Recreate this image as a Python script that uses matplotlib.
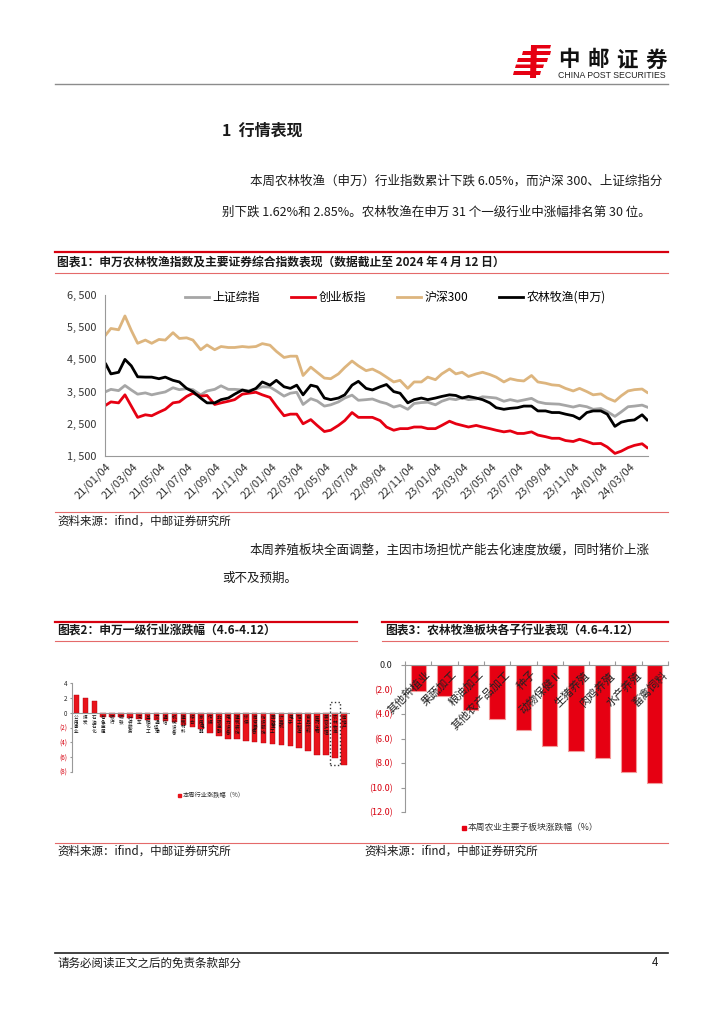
import numpy as np
import pandas as pd
import matplotlib
matplotlib.use('Agg')
import matplotlib.pyplot as plt
from matplotlib.patches import Rectangle, Polygon
from matplotlib.lines import Line2D

plt.rcParams['font.family'] = ['Noto Sans CJK SC', 'DejaVu Sans']

# =========================
# Data
# =========================

# semi-monthly readings (1st and 15th of each month), Jan 2021 - Apr 2024
dates = pd.date_range('2021-01-01', '2024-04-15', freq='SMS')
dates = dates.where(dates != pd.Timestamp('2021-01-01'), pd.Timestamp('2021-01-04'))
dates = dates.where(dates != pd.Timestamp('2024-04-15'), pd.Timestamp('2024-04-12'))

sse = [
    3500, 3570, 3530, 3690, 3550, 3420, 3460, 3400, 3450, 3490, 3620, 3560,
    3590, 3560, 3400, 3520, 3570, 3680, 3570, 3570, 3550, 3530, 3580, 3650,
    3640, 3520, 3360, 3450, 3480, 3100, 3280, 3210, 3050, 3090, 3180, 3300,
    3390, 3230, 3250, 3270, 3180, 3130, 3020, 3070, 2950, 3130, 3160, 3170,
    3090, 3200, 3280, 3250, 3310, 3250, 3270, 3340, 3320, 3300, 3200, 3250,
    3200, 3240, 3290, 3180, 3130, 3120, 3110, 3070, 3020, 3070, 3030, 2950,
    2975, 2880, 2730, 2870, 3030, 3050, 3080, 3020,
]

chinext = [
    3080, 3180, 3150, 3400, 3050, 2700, 2780, 2750, 2860, 2950, 3150, 3180,
    3350, 3450, 3360, 3380, 3100, 3150, 3200, 3250, 3420, 3450, 3480, 3400,
    3320, 3050, 2750, 2800, 2800, 2500, 2630, 2450, 2260, 2300, 2450, 2600,
    2850, 2700, 2700, 2700, 2600, 2400, 2300, 2350, 2350, 2400, 2400, 2350,
    2350, 2450, 2580, 2500, 2450, 2400, 2450, 2400, 2350, 2300, 2250, 2280,
    2200, 2200, 2250, 2150, 2100, 2050, 2050, 1980, 1950, 2020, 1950, 1880,
    1890, 1780, 1580, 1650, 1760, 1830, 1880, 1760,
]

hs300 = [
    5267, 5460, 5420, 5850, 5400, 5000, 5100, 5000, 5120, 5100, 5330, 5150,
    5170, 5100, 4800, 4950, 4800, 4900, 4870, 4870, 4900, 4880, 4900, 4990,
    4940, 4750, 4560, 4600, 4600, 4000, 4260, 4100, 3920, 3900, 4050, 4250,
    4450, 4300, 4150, 4200, 4080, 3950, 3800, 3850, 3600, 3800, 3800, 3950,
    3870, 4050, 4200, 4050, 4100, 3970, 4050, 4100, 4030, 3950, 3800, 3900,
    3850, 3830, 4000, 3800, 3760, 3710, 3690, 3600, 3520, 3600, 3500, 3400,
    3430, 3300, 3200, 3370, 3520, 3560, 3580, 3475,
]

agri = [
    4350, 4050, 4100, 4500, 4300, 3960, 3950, 3950, 3900, 3950, 3850, 3800,
    3600, 3500, 3300, 3150, 3150, 3250, 3300, 3420, 3550, 3500, 3600, 3800,
    3700, 3850, 3650, 3600, 3700, 3400, 3700, 3650, 3300, 3250, 3300, 3400,
    3700, 3820, 3600, 3550, 3650, 3720, 3500, 3450, 3150, 3250, 3300, 3250,
    3300, 3350, 3400, 3380, 3300, 3350, 3300, 3250, 3150, 3000, 2950, 2980,
    3000, 3050, 3050, 2900, 2900, 2850, 2850, 2800, 2750, 2650, 2850, 2900,
    2900, 2800, 2420, 2550, 2600, 2620, 2780, 2620,
]

series_names = ['上证综指', '创业板指', '沪深300', '农林牧渔(申万)']

y1_ticks = [1500, 2500, 3500, 4500, 5500, 6500]

# Shenwan level-1 industries, weekly change (%)
ind_names = ['公用事业', '煤炭', '石油石化', '有色金属', '银行', '钢铁', '社会服务',
             '汽车', '基础化工', '交通运输', '通信', '机械设备', '建筑材料', '综合',
             '家用电器', '传媒', '非银金融', '电力设备', '建筑装饰', '环保',
             '商贸零售', '纺织服饰', '国防军工', '计算机', '电子', '轻工制造',
             '食品饮料', '医药生物', '美容护理', '农林牧渔', '房地产']
ind_chg = [2.35, 1.95, 1.62, -0.55, -0.58, -0.65, -0.75, -0.85, -0.95, -1.0,
           -1.1, -1.3, -1.6, -1.9, -2.2, -2.8, -3.2, -3.5, -3.6, -3.8, -3.9,
           -4.1, -4.2, -4.4, -4.5, -4.8, -5.2, -5.7, -5.75, -6.05, -7.1]
y2_ticks = [4, 2, 0, -2, -4, -6, -8]
y2_labels = ['4', '2', '0', '(2)', '(4)', '(6)', '(8)']

# agriculture sub-sectors, weekly change (%)
sub_names = ['其他种植业', '果蔬加工', '粮油加工', '其他农产品加工', '种子',
             '动物保健Ⅱ', '生猪养殖', '肉鸡养殖', '水产养殖', '畜禽饲料']
sub_chg = [-2.15, -2.5, -3.67, -4.41, -5.3, -6.58, -7.04, -7.62, -8.74, -9.64]
y3_ticks = [0, -2, -4, -6, -8, -10, -12]
y3_labels = ['0.0', '(2.0)', '(4.0)', '(6.0)', '(8.0)', '(10.0)', '(12.0)']

# =========================
# Page
# =========================

W, H = 724, 1024
def fx(x):
    return x / W
def fy(y):
    return 1 - y / H

RED = '#D7000F'
LRED = '#E46A6A'
TXT = '#1a1a1a'

fig = plt.figure(figsize=(7.24, 10.24), dpi=100)

def hline(x0, x1, y, color, lw):
    fig.add_artist(Line2D([fx(x0), fx(x1)], [fy(y), fy(y)], color=color, lw=lw))

# logo
logo_parts = [
    [(537, 45), (551, 45), (550, 48.5), (536, 48.5)],
    [(523, 51), (551, 51), (550, 55), (522, 55)],
    [(518, 58), (548, 58), (547, 62), (517, 62)],
    [(516, 64.5), (544, 64.5), (543, 68), (515, 68)],
    [(514, 71), (541, 71), (540, 75), (513, 75)],
    [(531, 45), (537, 45), (536, 78), (530, 78)],
]
for pts in logo_parts:
    fig.add_artist(Polygon([(fx(a), fy(b)) for a, b in pts], closed=True,
                           facecolor='#E60012', edgecolor='none'))
for k, ch in enumerate('中邮证券'):
    fig.text(fx(569 + 29 * k), fy(60), ch, fontsize=15.5, fontweight='bold',
             ha='center', va='center', color='#111')
fig.text(fx(558), fy(76), 'CHINA POST SECURITIES', fontsize=6.3,
         family='Liberation Sans', ha='left', va='center', color='#222')
hline(55, 668, 84, '#8c8c8c', 1.0)

# section heading and text
fig.text(fx(222), fy(131), '1  行情表现', fontsize=11.5, fontweight='bold',
         va='center', color=TXT)
fig.text(fx(250), fy(181), '本周农林牧渔（申万）行业指数累计下跌 6.05%，而沪深 300、上证综指分',
         fontsize=9, va='center', color=TXT)
fig.text(fx(222), fy(212), '别下跌 1.62%和 2.85%。农林牧渔在申万 31 个一级行业中涨幅排名第 30 位。',
         fontsize=9, va='center', color=TXT)

hline(55, 668, 252, RED, 1.6)
fig.text(fx(57), fy(262), '图表1：申万农林牧渔指数及主要证券综合指数表现（数据截止至 2024 年 4 月 12 日）',
         fontsize=8.5, fontweight='bold', va='center', color=TXT)
hline(55, 668, 273, LRED, 0.8)

# =========================
# Chart 1: index lines
# =========================

ax1 = fig.add_axes([fx(105), fy(456), fx(648) - fx(105), (456 - 295) / H])
ax1.plot(dates, sse, color='#A6A6A6', lw=2, label=series_names[0])
ax1.plot(dates, chinext, color='#E60012', lw=2, label=series_names[1])
ax1.plot(dates, hs300, color='#DDB57E', lw=2, label=series_names[2])
ax1.plot(dates, agri, color='#000000', lw=2, label=series_names[3])

ax1.set_ylim(1500, 6500)
ax1.set_yticks(y1_ticks)
ax1.set_yticklabels([f'{v:,}'.replace(',', ', ') for v in y1_ticks], fontsize=7.8, color='#333')
ax1.set_xlim(pd.Timestamp('2021-01-02'), pd.Timestamp('2024-04-14'))
xt = pd.date_range('2021-01-01', '2024-03-01', freq='2MS') + pd.Timedelta(days=3)
ax1.set_xticks(xt)
ax1.set_xticklabels([d.strftime('%y/%m/%d') for d in xt], rotation=45,
                    ha='right', rotation_mode='anchor', fontsize=8, color='#333')
ax1.tick_params(axis='both', length=0, pad=6)
ax1.tick_params(axis='x', pad=4)
for s in ['top', 'right']:
    ax1.spines[s].set_visible(False)
for s in ['left', 'bottom']:
    ax1.spines[s].set_color('#999999')
    ax1.spines[s].set_linewidth(0.8)
ax1.patch.set_alpha(0)
ax1.legend(loc='center', bbox_to_anchor=(0.535, 0.985), ncol=4, frameon=False,
           fontsize=8.6, handlelength=2.0, handletextpad=0.3, columnspacing=2.6)

hline(55, 668, 512, LRED, 0.8)
fig.text(fx(57), fy(521), '资料来源：ifind，中邮证券研究所', fontsize=8.3, va='center', color=TXT)
fig.text(fx(250), fy(550), '本周养殖板块全面调整，主因市场担忧产能去化速度放缓，同时猪价上涨',
         fontsize=9, va='center', color=TXT)
fig.text(fx(222), fy(578), '或不及预期。', fontsize=9, va='center', color=TXT)

# headers of charts 2 and 3
hline(55, 357, 622, RED, 1.6)
hline(382, 668, 622, RED, 1.6)
fig.text(fx(57), fy(631), '图表2：申万一级行业涨跌幅（4.6-4.12）', fontsize=8.5,
         fontweight='bold', va='center', color=TXT)
fig.text(fx(385), fy(631), '图表3：农林牧渔板块各子行业表现（4.6-4.12）', fontsize=8.5,
         fontweight='bold', va='center', color=TXT)
hline(55, 357, 641, LRED, 0.8)
hline(382, 668, 641, LRED, 0.8)

# =========================
# Chart 2: industries
# =========================

ax2 = fig.add_axes([fx(72), fy(772), fx(350) - fx(72), (772 - 683) / H])
x2 = np.arange(len(ind_chg))
ax2.bar(x2, ind_chg, width=0.62, color='#E8141B', edgecolor='#B00010', linewidth=0.3)
ax2.axhline(0, color='#999999', lw=0.8)
ax2.set_ylim(-8, 4)
ax2.set_xlim(-0.5, len(ind_chg) - 0.3)
ax2.set_yticks(y2_ticks)
ax2.set_yticklabels(y2_labels, fontsize=4.5)
for lab, v in zip(ax2.get_yticklabels(), y2_ticks):
    lab.set_color(RED if v < 0 else '#222')
ax2.set_xticks([])
ax2.tick_params(axis='y', length=1.5, pad=2, color='#999999')
for s in ['top', 'right', 'bottom']:
    ax2.spines[s].set_visible(False)
ax2.spines['left'].set_color('#999999')
ax2.spines['left'].set_linewidth(0.8)
for i, name in enumerate(ind_names):
    ax2.text(i, -0.3, '\n'.join(name), ha='center', va='top', fontsize=3.3,
             linespacing=0.95, color='#111')
ax2.add_patch(Rectangle((28.5, -7.0), 1.1, 8.5, fill=False, ls=':', lw=1.0,
                        ec='#333333', clip_on=False))
ax2.patch.set_alpha(0)
fig.add_artist(Rectangle((fx(178), fy(797)), 3 / W, 3 / H, color='#E8141B'))
fig.text(fx(183), fy(795), '本周行业涨跌幅（%）', fontsize=4.5, va='center', color='#333')

# =========================
# Chart 3: sub-sectors
# =========================

ax3 = fig.add_axes([fx(405), fy(812), fx(668) - fx(405), (812 - 665) / H])
x3 = np.arange(len(sub_chg))
ax3.bar(x3, sub_chg, width=0.58, color='#E60012', edgecolor='#F29A9A', linewidth=0.8)
ax3.set_ylim(-12, 0)
ax3.set_xlim(-0.5, len(sub_chg) - 0.5)
ax3.set_yticks(y3_ticks)
ax3.set_yticklabels(y3_labels, fontsize=6.5)
for lab, v in zip(ax3.get_yticklabels(), y3_ticks):
    lab.set_color(RED if v < 0 else '#222')
ax3.xaxis.set_ticks_position('top')
ax3.set_xticks(np.arange(-0.5, len(sub_chg), 1))
ax3.set_xticklabels([])
ax3.tick_params(axis='x', direction='out', length=3, color='#999999')
ax3.tick_params(axis='y', direction='out', length=3, pad=6, color='#999999')
for s in ['right', 'bottom']:
    ax3.spines[s].set_visible(False)
for s in ['left', 'top']:
    ax3.spines[s].set_color('#999999')
    ax3.spines[s].set_linewidth(0.8)
for i, name in enumerate(sub_names):
    ax3.text(i + 0.28, -0.35, name, rotation=45, ha='right', va='top',
             rotation_mode='anchor', fontsize=8, color='#222', clip_on=False)
ax3.patch.set_alpha(0)
fig.add_artist(Rectangle((fx(462), fy(829.5)), 4 / W, 4 / H, color='#E60012'))
fig.text(fx(468), fy(827), '本周农业主要子板块涨跌幅（%）', fontsize=6.3, va='center', color='#333')

hline(55, 668, 843, LRED, 0.8)
fig.text(fx(57), fy(851), '资料来源：ifind，中邮证券研究所', fontsize=8.3, va='center', color=TXT)
fig.text(fx(364), fy(851), '资料来源：ifind，中邮证券研究所', fontsize=8.3, va='center', color=TXT)

# footer
hline(55, 668, 953, '#222222', 1.2)
fig.text(fx(57), fy(963), '请务必阅读正文之后的免责条款部分', fontsize=8.3, va='center', color=TXT)
fig.text(fx(652), fy(963), '4', fontsize=8.3, va='center', color=TXT)

fig.savefig('out.png', dpi=100)
